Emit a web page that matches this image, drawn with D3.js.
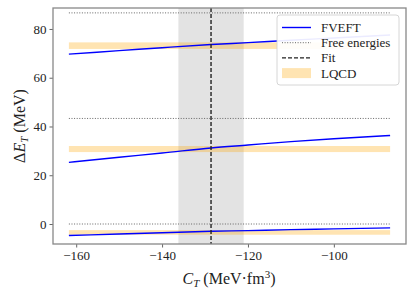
<!DOCTYPE html>
<html>
<head>
<meta charset="utf-8">
<script src="https://cdn.jsdelivr.net/npm/d3@7"></script>
<style>
  body { margin: 0; background: #fff; }
  text { font-family: "Liberation Serif", "DejaVu Serif", serif; }
</style>
</head>
<body>
<svg id="chart" width="415" height="297"></svg>
<script>
// FVEFT curves, sampled at cT
const cT = [-161.7, -150, -140, -128.6, -120, -110, -100, -86.9];
const fveftLow = [-4.7, -4.1, -3.6, -3.0, -2.7, -2.3, -2.0, -1.6];
const fveftMid = [25.3, 27.4, 29.1, 31.2, 32.4, 33.8, 35.0, 36.3];
const fveftHigh = [69.7, 71.1, 72.3, 73.6, 74.4, 75.4, 76.3, 77.5];

// free energies
const freeEnergies = [0, 43.3, 86.6];

// LQCD bands [lo, hi]
const lqcdBands = [[-4.4, -2.5], [29.5, 32.0], [71.8, 74.5]];

// fit and its uncertainty
const fitC = -128.6;
const fitBand = [-136.2, -121.0];

const xTicks = [-160, -140, -120, -100];
const yTicks = [0, 20, 40, 60, 80];
const legendLabels = ["FVEFT", "Free energies", "Fit", "LQCD"];

const margin = {left: 53, right: 9, top: 8, bottom: 53};
const W = 415, H = 297;

const svg = d3.select("#chart");

const x = d3.scaleLinear()
    .domain([-165.4, -83.2])
    .range([margin.left, W - margin.right]);
const y = d3.scaleLinear()
    .domain([-8.2, 88.6])
    .range([H - margin.bottom, margin.top]);

const fmt = d => (d < 0 ? "\u2212" + Math.abs(d) : "" + d);

// fit uncertainty band
svg.append("rect")
    .attr("x", x(fitBand[0]))
    .attr("width", x(fitBand[1]) - x(fitBand[0]))
    .attr("y", margin.top)
    .attr("height", H - margin.bottom - margin.top)
    .attr("fill", "#808080")
    .attr("fill-opacity", 0.22);

// LQCD bands
lqcdBands.forEach(function(b) {
    svg.append("rect")
        .attr("x", x(cT[0]))
        .attr("width", x(cT[cT.length - 1]) - x(cT[0]))
        .attr("y", y(b[1]))
        .attr("height", y(b[0]) - y(b[1]))
        .attr("fill", "#ffa500")
        .attr("fill-opacity", 0.3);
});

// free energies
freeEnergies.forEach(function(e) {
    svg.append("line")
        .attr("x1", x(cT[0])).attr("x2", x(cT[cT.length - 1]))
        .attr("y1", y(e)).attr("y2", y(e))
        .attr("stroke", "#666")
        .attr("stroke-width", 1)
        .attr("stroke-dasharray", "1,1.6");
});

// FVEFT lines
const line = d3.line()
    .x(function(d) { return x(d[0]); })
    .y(function(d) { return y(d[1]); })
    .curve(d3.curveMonotoneX);

[fveftLow, fveftMid, fveftHigh].forEach(function(vals) {
    svg.append("path")
        .attr("d", line(cT.map(function(c, i) { return [c, vals[i]]; })))
        .attr("fill", "none")
        .attr("stroke", "#0000ff")
        .attr("stroke-width", 1.4);
});

// fit line
svg.append("line")
    .attr("x1", x(fitC)).attr("x2", x(fitC))
    .attr("y1", margin.top).attr("y2", H - margin.bottom)
    .attr("stroke", "#222")
    .attr("stroke-width", 1.4)
    .attr("stroke-dasharray", "4,2");

// axes
const xAxis = d3.axisBottom(x).tickValues(xTicks).tickFormat(fmt).tickSizeOuter(0).tickSize(3.5).tickPadding(3);
const yAxis = d3.axisLeft(y).tickValues(yTicks).tickFormat(fmt).tickSizeOuter(0).tickSize(3.5).tickPadding(3);

const gx = svg.append("g")
    .attr("transform", "translate(0," + (H - margin.bottom) + ")")
    .call(xAxis);
const gy = svg.append("g")
    .attr("transform", "translate(" + margin.left + ",0)")
    .call(yAxis);

[gx, gy].forEach(function(g) {
    g.select(".domain").remove();
    g.selectAll(".tick line").attr("stroke", "#555").attr("stroke-width", 0.9);
    g.selectAll(".tick text")
        .attr("fill", "#222")
        .style("font-family", "'Liberation Serif', serif")
        .style("font-size", "13px");
});

// frame
svg.append("rect")
    .attr("x", margin.left)
    .attr("y", margin.top)
    .attr("width", W - margin.right - margin.left)
    .attr("height", H - margin.bottom - margin.top)
    .attr("fill", "none")
    .attr("stroke", "#888")
    .attr("stroke-width", 1.3);

// legend
const lg = svg.append("g").attr("transform", "translate(277,15)");
lg.append("rect")
    .attr("width", 122).attr("height", 70)
    .attr("rx", 3)
    .attr("fill", "#fff").attr("fill-opacity", 0.92)
    .attr("stroke", "#ccc").attr("stroke-width", 0.8);

legendLabels.forEach(function(lab, i) {
    const yy = 12.5 + i * 15.2;
    const row = lg.append("g");
    if (i === 0) {
        row.append("line").attr("x1", 5).attr("x2", 34).attr("y1", yy).attr("y2", yy)
            .attr("stroke", "#0000ff").attr("stroke-width", 1.4);
    } else if (i === 1) {
        row.append("line").attr("x1", 5).attr("x2", 34).attr("y1", yy).attr("y2", yy)
            .attr("stroke", "#666").attr("stroke-width", 1).attr("stroke-dasharray", "1,1.6");
    } else if (i === 2) {
        row.append("line").attr("x1", 5).attr("x2", 34).attr("y1", yy).attr("y2", yy)
            .attr("stroke", "#222").attr("stroke-width", 1.4).attr("stroke-dasharray", "4,2");
    } else {
        row.append("rect").attr("x", 5).attr("width", 29).attr("y", yy - 5).attr("height", 10)
            .attr("fill", "#ffa500").attr("fill-opacity", 0.3);
    }
    row.append("text")
        .attr("x", 44).attr("y", yy + 4.5)
        .attr("fill", "#222")
        .style("font-size", "13px")
        .text(lab);
});

// axis labels
const xl = svg.append("text")
    .attr("x", 229)
    .attr("y", 284)
    .attr("text-anchor", "middle")
    .attr("fill", "#222")
    .style("font-size", "16px");
xl.append("tspan").attr("font-style", "italic").text("C");
xl.append("tspan").attr("font-style", "italic").attr("font-size", "11px").attr("dy", 3).text("T");
xl.append("tspan").attr("dy", -3).text(" (MeV\u00b7fm");
xl.append("tspan").attr("font-size", "11px").attr("dy", -6).text("3");
xl.append("tspan").attr("dy", 6).text(")");

const yl = svg.append("text")
    .attr("transform", "translate(25," + ((margin.top + H - margin.bottom) / 2) + ") rotate(-90)")
    .attr("text-anchor", "middle")
    .attr("fill", "#222")
    .style("font-size", "16px");
yl.append("tspan").text("\u0394");
yl.append("tspan").attr("font-style", "italic").text("E");
yl.append("tspan").attr("font-style", "italic").attr("font-size", "11px").attr("dy", 3).text("T");
yl.append("tspan").attr("dy", -3).text(" (MeV)");
</script>
</body>
</html>
